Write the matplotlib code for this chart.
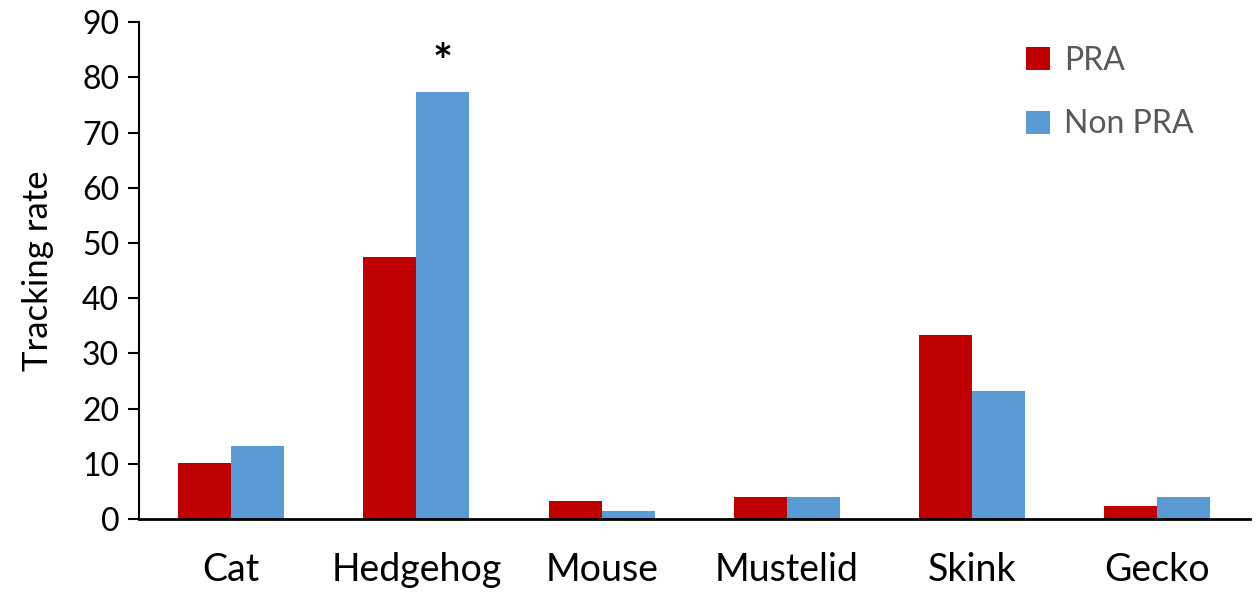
import numpy as np
import matplotlib.pyplot as plt

plt.rcParams['font.family'] = ['Lato', 'DejaVu Sans']

# data
species = ['Cat', 'Hedgehog', 'Mouse', 'Mustelid', 'Skink', 'Gecko']
pra = [10.2, 47.4, 3.2, 4.0, 33.3, 2.3]
non_pra = [13.2, 77.4, 1.5, 4.0, 23.2, 4.0]
yticks = [0, 10, 20, 30, 40, 50, 60, 70, 80, 90]

fig = plt.figure(figsize=(12.6, 5.97), dpi=100)
ax = fig.add_axes([0.110, 0.1307, 0.882, 0.8323])

x = np.arange(len(species))
w = 0.286
ax.bar(x - w / 2, pra, w, color='#c00000', label='PRA')
ax.bar(x + w / 2, non_pra, w, color='#5b9bd5', label='Non PRA')

# significance marker
ax.text(x[1] + w / 2, non_pra[1] + 1.0, '*', ha='center', va='bottom', fontsize=34, fontweight='bold')

ax.set_xlim(-0.5, len(species) - 0.5)
ax.set_ylim(0, 90)
ax.set_yticks(yticks)
ax.set_xticks(x)
ax.set_xticklabels(species, fontsize=27)
ax.tick_params(axis='x', length=0, pad=24)
ax.tick_params(axis='y', labelsize=23, length=8, width=1.5, direction='out', pad=6)
ax.set_ylabel('Tracking rate', fontsize=25, labelpad=20)

for s in ['top', 'right']:
    ax.spines[s].set_visible(False)
ax.spines['left'].set_linewidth(1.5)
ax.spines['bottom'].set_linewidth(2)

leg = ax.legend(loc='upper right', bbox_to_anchor=(0.975, 1.01), frameon=False, fontsize=23,
                handlelength=0.75, handleheight=0.75, labelspacing=1.05, handletextpad=0.45)
for t in leg.get_texts():
    t.set_color('#595959')

fig.savefig('out.png', dpi=100)
